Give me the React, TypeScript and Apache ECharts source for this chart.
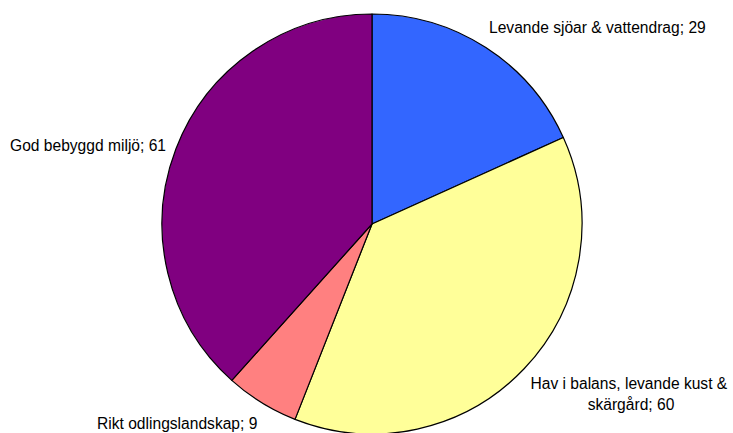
import React, { useEffect, useRef } from "react";
import * as echarts from "echarts";

const names = [
  "Levande sjöar & vattendrag",
  "Hav i balans, levande kust & skärgård",
  "Rikt odlingslandskap",
  "God bebyggd miljö",
];
const values = [29, 60, 9, 61];
const colors = ["#3366FF", "#FFFF99", "#FF8080", "#800080"];

// label anchor placement (layout only)
const labelPos = [
  { x: 489, y: 27, align: "left" },
  { x: 631, y: 394, align: "center" },
  { x: 97, y: 423, align: "left" },
  { x: 10, y: 145, align: "left" },
];
// label wrap width per slice (layout only)
const labelWidth = [0, 215, 0, 0];

export default function App() {
  const ref = useRef<HTMLDivElement>(null);
  useEffect(() => {
    if (!ref.current) return;
    const chart = echarts.init(ref.current, null, { renderer: "svg" });
    chart.setOption({
      animation: false,
      backgroundColor: "#ffffff",
      series: [
        {
          type: "pie",
          center: [372, 224],
          radius: 210,
          startAngle: 90,
          clockwise: true,
          avoidLabelOverlap: false,
          data: names.map((n, i) => ({
            name: n,
            value: values[i],
            itemStyle: { color: colors[i] },
            label: labelWidth[i]
              ? { width: labelWidth[i], overflow: "break", align: "center" }
              : {},
          })),
          itemStyle: { borderColor: "#000", borderWidth: 1.2 },
          emphasis: { disabled: true },
          label: {
            show: true,
            formatter: "{b}; {c}",
            fontFamily: "Liberation Sans, Arial, sans-serif",
            fontSize: 15.6,
            color: "#000",
            lineHeight: 21,
          },
          labelLine: { show: false },
          labelLayout: (p: any) => {
            const lp = labelPos[p.dataIndex];
            return {
              x: lp.x,
              y: lp.y,
              align: lp.align,
              verticalAlign: "middle",
            };
          },
        },
      ],
    });
    return () => chart.dispose();
  }, []);
  return (
    <div
      ref={ref}
      style={{ position: "fixed", left: 0, top: 0, width: 733, height: 433 }}
    />
  );
}
